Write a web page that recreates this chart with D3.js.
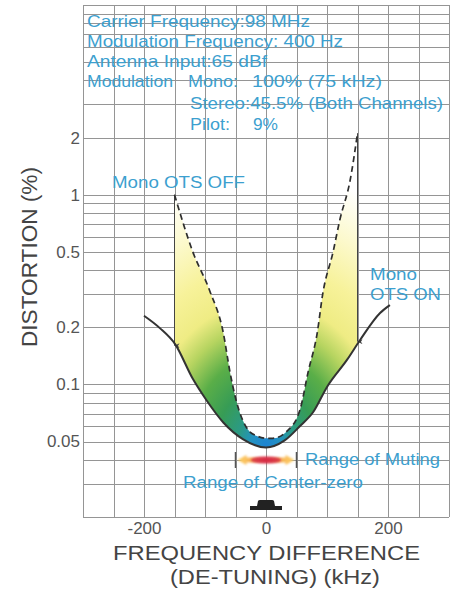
<!DOCTYPE html>
<html>
<head>
<meta charset="utf-8">
<script src="https://cdn.jsdelivr.net/npm/d3@7"></script>
<style>
  body { margin: 0; background: #fff; }
  svg text { font-family: "Liberation Sans", Arial, Helvetica, sans-serif; }
</style>
</head>
<body>
<div id="chart"></div>
<script>
// tick labels
var xTicks = [-200, 0, 200];
var yTicks = [0.05, 0.1, 0.2, 0.5, 1, 2];

// Mono OTS ON (solid curve)
var otsOnKHz = [-200, -174, -149, -120, -97, -70, -38, 0, 30, 55, 78, 100, 133, 154, 187, 203];
var otsOnDist = [0.23, 0.198, 0.163, 0.107, 0.082, 0.063, 0.0515, 0.0465, 0.0505, 0.06, 0.072, 0.097, 0.135, 0.171, 0.238, 0.262];

// Mono OTS OFF (dashed curve)
var otsOffKHz = [-150, -120, -92, -70, -59, -50, -43, -30, -15, 0, 11, 34, 56, 69, 84, 93, 110, 121, 138, 150];
var otsOffDist = [1.0, 0.5, 0.31, 0.187, 0.116, 0.085, 0.071, 0.058, 0.0535, 0.052, 0.052, 0.0565, 0.074, 0.116, 0.187, 0.3, 0.5, 0.736, 1.195, 2.11];

// range of muting (kHz)
var mutingRange = [-50, 50];

var width = 458, height = 594;
var blue = "#3c9fcf";

var svg = d3.select("#chart").append("svg")
  .attr("width", width)
  .attr("height", height);

var x = d3.scaleLinear().domain([-300, 300]).range([83, 449]);
var y = d3.scaleLog().domain([0.02, 10]).range([517, 5]);

// grid
var xGrid = d3.range(-300, 301, 50);
var yGrid = [];
[0.01, 0.1, 1].forEach(function (d) {
  for (var i = 1; i < 10; i++) yGrid.push(d * i);
});
yGrid.push(10);
yGrid = yGrid.filter(function (v) { return v >= 0.0199; });

var grid = svg.append("g").attr("stroke", "#959595").attr("stroke-width", 1);
grid.selectAll("line.v").data(xGrid).enter().append("line")
  .attr("x1", function (d) { return Math.round(x(d)) + 0.5; })
  .attr("x2", function (d) { return Math.round(x(d)) + 0.5; })
  .attr("y1", y(10)).attr("y2", y(0.02));
grid.selectAll("line.h").data(yGrid).enter().append("line")
  .attr("y1", function (d) { return Math.round(y(d)) + 0.5; })
  .attr("y2", function (d) { return Math.round(y(d)) + 0.5; })
  .attr("x1", x(-300)).attr("x2", x(300));

function addText(tx, ty, str, size, len, color) {
  var t = svg.append("text")
    .attr("x", tx).attr("y", ty)
    .attr("font-size", size)
    .attr("fill", color || blue)
    .text(str);
  if (len) t.attr("textLength", len).attr("lengthAdjust", "spacingAndGlyphs");
  return t;
}

// condition notes
addText(87, 27, "Carrier Frequency:98 MHz", 16.5, 223);
addText(87, 47, "Modulation Frequency: 400 Hz", 16.5, 256);
addText(87, 67, "Antenna Input:65 dBf", 16.5, 180);
addText(87, 87, "Modulation", 16.5, 86);
addText(188, 87, "Mono:", 16.5, 50);
addText(252, 87, "100% (75 kHz)", 16.5, 130);
addText(190, 109, "Stereo:45.5% (Both Channels)", 16.5, 253);
addText(190, 130, "Pilot:", 16.5, 40);
addText(253, 130, "9%", 16.5, 25);

// points
var onPts = otsOnKHz.map(function (k, i) { return [x(k), y(otsOnDist[i])]; });
var offPts = otsOffKHz.map(function (k, i) { return [x(k), y(otsOffDist[i])]; });

var line = d3.line().curve(d3.curveMonotoneX);

// gradient fill between curves (elliptical, centred on the bottom of the dip)
var defs = svg.append("defs");
var grad = defs.append("radialGradient")
  .attr("id", "band")
  .attr("gradientUnits", "userSpaceOnUse")
  .attr("cx", 0).attr("cy", 0).attr("r", 1)
  .attr("gradientTransform", "translate(" + x(0) + "," + y(0.048) + ") scale(250,300)");
[[0, "#1e84d2"], [0.06, "#2392c0"], [0.11, "#2a9a88"], [0.2, "#379c55"], [0.3, "#5aae48"],
 [0.4, "#b6d460"], [0.48, "#efec84"], [0.6, "#f7f29a"], [0.75, "#fcf9cc"], [0.92, "#ffffff"]]
  .forEach(function (s) {
    grad.append("stop").attr("offset", s[0]).attr("stop-color", s[1]);
  });

defs.append("clipPath").attr("id", "aboveOn")
  .append("path")
  .attr("d", line(onPts) + "L" + x(203) + "," + 0 + "L" + x(-200) + "," + 0 + "Z");

svg.append("path")
  .attr("clip-path", "url(#aboveOn)")
  .attr("d", line(offPts) + "L" + x(150) + "," + y(0.02) + "L" + x(-150) + "," + y(0.02) + "Z")
  .attr("fill", "url(#band)");

// arrows (vertical lines)
defs.append("marker").attr("id", "arrow")
  .attr("viewBox", "0 0 10 10").attr("refX", 5).attr("refY", 10)
  .attr("markerWidth", 5).attr("markerHeight", 8)
  .attr("markerUnits", "userSpaceOnUse")
  .attr("orient", "auto-start-reverse")
  .append("path").attr("d", "M0,0L5,10L10,0L5,3Z").attr("fill", "#444");

[[-150, otsOffDist[0], 0.16], [150, otsOffDist[otsOffDist.length - 1], 0.168]].forEach(function (a) {
  svg.append("line")
    .attr("x1", x(a[0])).attr("x2", x(a[0]))
    .attr("y1", y(a[1])).attr("y2", y(a[2]))
    .attr("stroke", "#444").attr("stroke-width", 1)
    .attr("marker-end", "url(#arrow)");
});

// curves
svg.append("path")
  .attr("d", line(offPts))
  .attr("fill", "none").attr("stroke", "#2e2e2e")
  .attr("stroke-width", 1.7).attr("stroke-dasharray", "6,4");

svg.append("path")
  .attr("d", line(onPts))
  .attr("fill", "none").attr("stroke", "#333")
  .attr("stroke-width", 2);

// curve labels
addText(112, 188, "Mono OTS OFF", 16, 133);
addText(370, 280, "Mono", 16, 47);
addText(370, 300, "OTS ON", 16, 71);

// range of muting
var mY = 460;
svg.selectAll("line.mute").data(mutingRange).enter().append("line")
  .attr("x1", function (d) { return x(d); }).attr("x2", function (d) { return x(d); })
  .attr("y1", mY - 8).attr("y2", mY + 8)
  .attr("stroke", "#555").attr("stroke-width", 1.5);

var mg = defs.append("linearGradient").attr("id", "mute")
  .attr("gradientUnits", "userSpaceOnUse")
  .attr("x1", x(mutingRange[0])).attr("x2", x(mutingRange[1]))
  .attr("y1", 0).attr("y2", 0);
[[0, "#ffd868"], [0.25, "#f8b458"], [0.5, "#e04050"], [0.75, "#f8b458"], [1, "#ffd868"]]
  .forEach(function (s) { mg.append("stop").attr("offset", s[0]).attr("stop-color", s[1]); });

defs.append("filter").attr("id", "glow")
  .attr("x", "-20%").attr("y", "-100%").attr("width", "140%").attr("height", "300%")
  .append("feGaussianBlur").attr("stdDeviation", 0.9);

var ax0 = x(mutingRange[0]) + 2, ax1 = x(mutingRange[1]) - 2;
svg.append("path")
  .attr("filter", "url(#glow)")
  .attr("d", "M" + ax0 + "," + mY + "L" + (ax0 + 9) + "," + (mY - 5) + "L" + (ax0 + 9) + "," + (mY - 2.5) +
    "L" + (ax1 - 9) + "," + (mY - 2.5) + "L" + (ax1 - 9) + "," + (mY - 5) + "L" + ax1 + "," + mY +
    "L" + (ax1 - 9) + "," + (mY + 5) + "L" + (ax1 - 9) + "," + (mY + 2.5) + "L" + (ax0 + 9) + "," + (mY + 2.5) +
    "L" + (ax0 + 9) + "," + (mY + 5) + "Z")
  .attr("fill", "url(#mute)");
svg.append("ellipse")
  .attr("filter", "url(#glow)")
  .attr("cx", x(0)).attr("cy", mY).attr("rx", 15).attr("ry", 3.5)
  .attr("fill", "#d42040").attr("opacity", 0.75);

addText(305, 465, "Range of Muting", 16, 135);
addText(183, 488, "Range of Center-zero", 16, 180);

// center-zero meter symbol
svg.append("path")
  .attr("d", "M" + (x(0) - 9) + ",506 L" + (x(0) - 8) + ",501 Q" + (x(0) - 7.5) + ",500 " + (x(0) - 6) + ",500 L" +
    (x(0) + 6) + ",500 Q" + (x(0) + 7.5) + ",500 " + (x(0) + 8) + ",501 L" + (x(0) + 9) + ",506 L" +
    (x(0) + 16) + ",506 L" + (x(0) + 16) + ",510 L" + (x(0) - 16) + ",510 L" + (x(0) - 16) + ",506 Z")
  .attr("fill", "#222");

// axes
var xAxis = svg.append("g")
  .attr("transform", "translate(0," + y(0.02) + ")")
  .call(d3.axisBottom(x).tickValues(xTicks).tickSize(0).tickPadding(5).tickFormat(d3.format("d")));
xAxis.select(".domain").remove();
xAxis.selectAll("text").attr("font-size", 17).attr("fill", "#555")
  .attr("font-family", "'Liberation Sans', Arial, sans-serif")
  .text(function (d) { return d < 0 ? "-" + Math.abs(d) : d; });

var yAxis = svg.append("g")
  .attr("transform", "translate(" + x(-300) + ",0)")
  .call(d3.axisLeft(y).tickValues(yTicks).tickSize(0).tickPadding(3).tickFormat(function (d) { return String(d); }));
yAxis.select(".domain").remove();
yAxis.selectAll("text").attr("font-size", 17).attr("fill", "#555")
  .attr("font-family", "'Liberation Sans', Arial, sans-serif");

addText(113, 560, "FREQUENCY DIFFERENCE", 21, 307, "#444");
addText(170, 584, "(DE-TUNING) (kHz)", 21, 210, "#444");

svg.append("text")
  .attr("transform", "translate(37,257) rotate(-90)")
  .attr("text-anchor", "middle")
  .attr("font-size", 22).attr("fill", "#444")
  .attr("textLength", 180).attr("lengthAdjust", "spacingAndGlyphs")
  .text("DISTORTION (%)");
</script>
</body>
</html>
